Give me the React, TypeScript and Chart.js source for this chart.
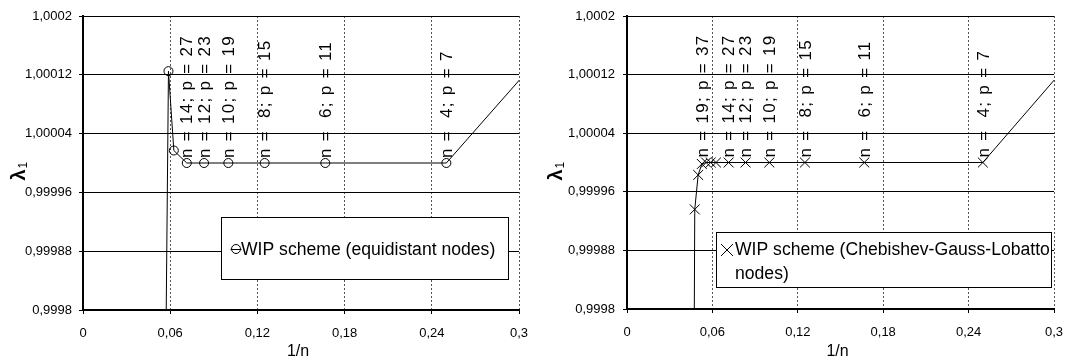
import React, { useEffect, useRef } from 'react';
import { Chart, registerables } from 'chart.js';

Chart.register(...registerables);

// ---------- data ----------
const xTickValues = [0, 0.06, 0.12, 0.18, 0.24, 0.3];
const xTickLabels = ['0', '0,06', '0,12', '0,18', '0,24', '0,3'];
const yTickValues = [0.9998, 0.99988, 0.99996, 1.00004, 1.00012, 1.0002];
const yTickLabels = ['0,9998', '0,99988', '0,99996', '1,00004', '1,00012', '1,0002'];

// equidistant nodes: 1/n for n = 3, 4, 6, 8, 10, 12, 14, 16, 17, 18
const equidistantX = [0.3333, 0.25, 0.1667, 0.125, 0.1, 0.0833, 0.0714, 0.0625, 0.0588, 0.0556];
const equidistantLambda = [1.000187, 1.0, 1.0, 1.0, 1.0, 1.0, 1.0, 1.000017, 1.000125, 0.99945];

// Chebishev-Gauss-Lobatto nodes: n = 3, 4, 6, 8, 10, 12, 14, 16, 17, 18, 19, 20, 21, 22
const cglX = [0.3333, 0.25, 0.1667, 0.125, 0.1, 0.0833, 0.0714, 0.0625, 0.0588, 0.0556, 0.0526, 0.05, 0.0476, 0.0455];
const cglLambda = [1.000187, 1.0, 1.0, 1.0, 1.0, 1.0, 1.0, 1.0, 1.0, 1.0, 0.999998, 0.999983, 0.999936, 0.999];

const equidistantLabelX = [0.0714, 0.0833, 0.1, 0.125, 0.1667, 0.25];
const equidistantLabelLambda = [1.0, 1.0, 1.0, 1.0, 1.0, 1.0];
const equidistantLabelText = ['n = 14; p = 27', 'n = 12; p = 23', 'n = 10; p = 19', 'n =  8; p = 15', 'n =  6; p = 11', 'n =  4; p = 7'];

const cglLabelX = [0.0526, 0.0714, 0.0833, 0.1, 0.125, 0.1667, 0.25];
const cglLabelLambda = [1.0, 1.0, 1.0, 1.0, 1.0, 1.0, 1.0];
const cglLabelText = ['n = 19; p = 37', 'n = 14; p = 27', 'n = 12; p = 23', 'n = 10; p = 19', 'n =  8; p = 15', 'n =  6; p = 11', 'n =  4; p = 7'];

const legendEquidistant = ['WIP scheme (equidistant nodes)'];
const legendCgl = ['WIP scheme (Chebishev-Gauss-Lobatto', 'nodes)'];

const FONT = '"Liberation Sans", Arial, sans-serif';

type ChartSpec = {
  xs: number[];
  ys: number[];
  pointStyle: string;
  pointRadius: number;
  labelX: number[];
  labelY: number[];
  labelText: string[];
  legendLines: string[];
  yAxisWidth: number;
  xAxisHeight: number;
  rightPad: number;
  yTickPad: number;
  legendBox: { x: number; y: number; w: number; h: number };
  legendMarker: { x: number; y: number };
  legendTextX: number;
  legendTextY: number;
  lambdaX: number;
};

function overlayPlugin(spec: ChartSpec) {
  return {
    id: 'overlay',
    afterDatasetsDraw(chart: any) {
      const ctx = chart.ctx as CanvasRenderingContext2D;
      const xs = chart.scales.x;
      const ys = chart.scales.y;
      ctx.save();
      ctx.font = `17px ${FONT}`;
      (ctx as any).letterSpacing = '1.3px';
      ctx.fillStyle = '#000';
      ctx.textAlign = 'left';
      ctx.textBaseline = 'middle';
      spec.labelX.forEach((lx, i) => {
        const px = xs.getPixelForValue(lx);
        const py = ys.getPixelForValue(spec.labelY[i]);
        ctx.save();
        ctx.translate(px + 1, py - 5);
        ctx.rotate(-Math.PI / 2);
        ctx.fillText(spec.labelText[i], 0, 0);
        ctx.restore();
      });
      ctx.restore();
    },
    afterDraw(chart: any) {
      const ctx = chart.ctx as CanvasRenderingContext2D;
      const area = chart.chartArea;
      // legend box
      const b = spec.legendBox;
      ctx.save();
      ctx.fillStyle = '#fff';
      ctx.fillRect(b.x, b.y, b.w, b.h);
      ctx.strokeStyle = '#000';
      ctx.lineWidth = 1;
      ctx.strokeRect(b.x + 0.5, b.y + 0.5, b.w, b.h);
      // marker
      const m = spec.legendMarker;
      ctx.beginPath();
      if (spec.pointStyle === 'circle') {
        ctx.arc(m.x, m.y, 4.5, 0, Math.PI * 2);
        ctx.moveTo(m.x - 5.5, m.y + 0.5);
        ctx.lineTo(m.x + 5.5, m.y + 0.5);
      } else {
        ctx.moveTo(m.x - 6, m.y - 6);
        ctx.lineTo(m.x + 6, m.y + 6);
        ctx.moveTo(m.x - 6, m.y + 6);
        ctx.lineTo(m.x + 6, m.y - 6);
      }
      ctx.stroke();
      ctx.fillStyle = '#000';
      ctx.font = `17.6px ${FONT}`;
      ctx.textAlign = 'left';
      ctx.textBaseline = 'middle';
      spec.legendLines.forEach((t, i) => {
        ctx.fillText(t, spec.legendTextX, spec.legendTextY + i * 24);
      });
      // x title
      ctx.font = `16px ${FONT}`;
      ctx.textAlign = 'center';
      ctx.fillText('1/n', (area.left + area.right) / 2 - 3, 352);
      // y title: lambda with subscript 1
      ctx.translate(spec.lambdaX, 172);
      ctx.rotate(-Math.PI / 2);
      ctx.font = `bold 20px ${FONT}`;
      ctx.textAlign = 'left';
      const w = ctx.measureText('λ').width;
      ctx.fillText('λ', -w / 2 - 3, 0);
      ctx.font = `12px ${FONT}`;
      ctx.fillText('1', w / 2 - 2, 5);
      ctx.restore();
    },
  };
}

function makeConfig(spec: ChartSpec): any {
  const tickFont = { family: FONT, size: 13 };
  return {
    type: 'scatter',
    data: {
      datasets: [
        {
          data: spec.xs.map((x, i) => ({ x, y: spec.ys[i] })),
          showLine: true,
          borderColor: '#000',
          borderWidth: 1,
          pointStyle: spec.pointStyle,
          pointRadius: spec.pointRadius,
          pointBackgroundColor: 'rgba(0,0,0,0)',
          pointBorderColor: '#000',
          pointBorderWidth: 1,
          tension: 0,
        },
      ],
    },
    options: {
      animation: false,
      responsive: false,
      maintainAspectRatio: false,
      layout: { padding: { top: 16, right: spec.rightPad, left: 0, bottom: 0 } },
      plugins: { legend: { display: false }, tooltip: { enabled: false } },
      scales: {
        x: {
          type: 'linear',
          min: 0,
          max: 0.3,
          afterBuildTicks: (s: any) => {
            s.ticks = xTickValues.map((v) => ({ value: v }));
          },
          afterFit: (s: any) => {
            s.height = spec.xAxisHeight;
            s.paddingLeft = 0;
            s.paddingRight = 0;
          },
          ticks: {
            callback: (_v: any, i: number) => xTickLabels[i],
            font: tickFont,
            color: '#000',
            padding: 12,
            maxRotation: 0,
            autoSkip: false,
          },
          grid: {
            color: (c: any) => (c.index === 0 ? 'rgba(0,0,0,0)' : '#555'),
            lineWidth: 1,
            tickLength: 4,
            tickColor: '#000',
          },
          border: { display: true, color: '#000', width: 2, dash: [2, 2] },
        },
        y: {
          type: 'linear',
          min: 0.9998,
          max: 1.0002,
          afterBuildTicks: (s: any) => {
            s.ticks = yTickValues.map((v) => ({ value: v }));
          },
          afterFit: (s: any) => {
            s.width = spec.yAxisWidth;
            s.paddingTop = 0;
            s.paddingBottom = 0;
          },
          ticks: {
            callback: (_v: any, i: number) => yTickLabels[i],
            font: tickFont,
            color: '#000',
            padding: spec.yTickPad,
            autoSkip: false,
          },
          grid: {
            color: (c: any) => (c.index === 0 ? 'rgba(0,0,0,0)' : '#000'),
            lineWidth: 1,
            tickLength: 4,
            tickColor: '#000',
          },
          border: { display: true, color: '#000', width: 2 },
        },
      },
    },
    plugins: [overlayPlugin(spec)],
  };
}

const leftSpec: ChartSpec = {
  xs: equidistantX,
  ys: equidistantLambda,
  pointStyle: 'circle',
  pointRadius: 4.5,
  labelX: equidistantLabelX,
  labelY: equidistantLabelLambda,
  labelText: equidistantLabelText,
  legendLines: legendEquidistant,
  yAxisWidth: 83,
  xAxisHeight: 50,
  rightPad: 14,
  yTickPad: 7,
  legendBox: { x: 221, y: 217, w: 287, h: 62 },
  legendMarker: { x: 236, y: 249 },
  legendTextX: 241,
  legendTextY: 250,
  lambdaX: 19,
};

const rightSpec: ChartSpec = {
  xs: cglX,
  ys: cglLambda,
  pointStyle: 'crossRot',
  pointRadius: 7,
  labelX: cglLabelX,
  labelY: cglLabelLambda,
  labelText: cglLabelText,
  legendLines: legendCgl,
  yAxisWidth: 94,
  xAxisHeight: 51,
  rightPad: 12,
  yTickPad: 8,
  legendBox: { x: 183, y: 232, w: 335, h: 55 },
  legendMarker: { x: 194, y: 250 },
  legendTextX: 202,
  legendTextY: 250,
  lambdaX: 23,
};

function ChartCanvas({ spec, left }: { spec: ChartSpec; left: number }) {
  const ref = useRef<HTMLCanvasElement>(null);
  useEffect(() => {
    if (!ref.current) return;
    const chart = new Chart(ref.current, makeConfig(spec));
    return () => chart.destroy();
  }, [spec]);
  return (
    <canvas
      ref={ref}
      width={533}
      height={360}
      style={{ position: 'absolute', left, top: 0, width: 533, height: 360 }}
    />
  );
}

export default function App() {
  useEffect(() => {
    document.body.style.margin = '0';
    document.body.style.background = '#fff';
  }, []);
  return (
    <div style={{ position: 'absolute', left: 0, top: 0, width: 1066, height: 360, background: '#fff' }}>
      <ChartCanvas spec={leftSpec} left={0} />
      <ChartCanvas spec={rightSpec} left={533} />
    </div>
  );
}
